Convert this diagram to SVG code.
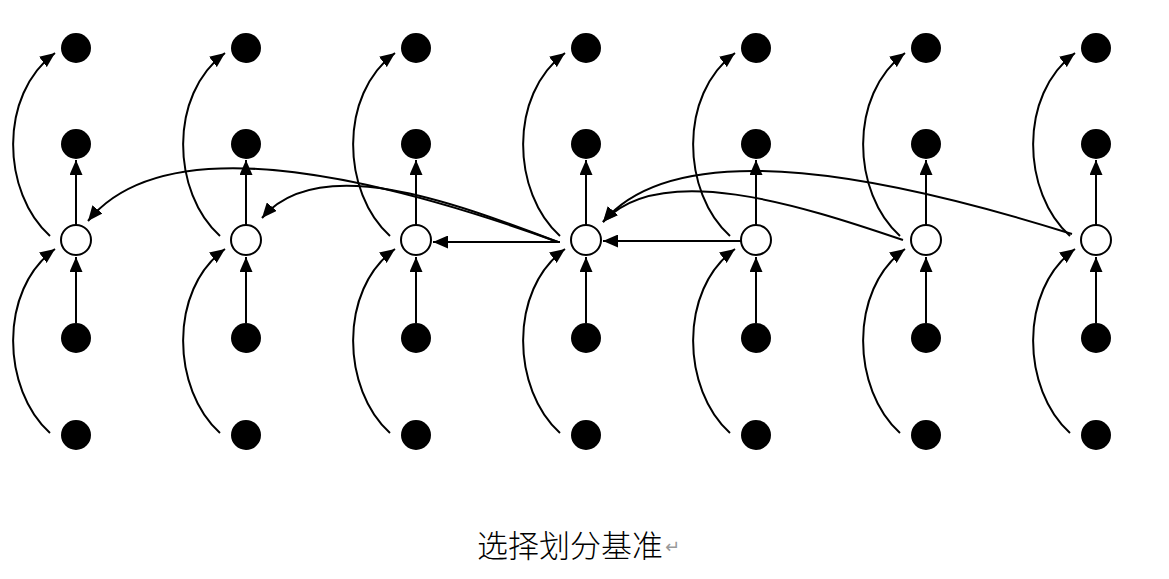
<svg xmlns="http://www.w3.org/2000/svg" width="1169" height="579" viewBox="0 0 1169 579">
<defs>
<marker id="ah" viewBox="0 0 15 13" refX="15" refY="6.5" markerWidth="15" markerHeight="13" markerUnits="userSpaceOnUse" orient="auto">
<path d="M0,0 L15,6.5 L0,13 Z" fill="#000"/>
</marker>
<g id="col">
<circle cx="0" cy="48" r="15" class="dot"/>
<circle cx="0" cy="144" r="15" class="dot"/>
<circle cx="0" cy="240" r="15" class="open"/>
<circle cx="0" cy="338" r="15" class="dot"/>
<circle cx="0" cy="435" r="15" class="dot"/>
</g>
<g id="colcon">
<path d="M-26,433 C-74,390 -78,290 -21,249" class="ln"/>
<path d="M-26,236 C-74,193 -78,95 -21,53" class="ln"/>
<path d="M0,323 L0,257" class="ln"/>
<path d="M0,225 L0,160" class="ln"/>
</g>
</defs>
<style>
.dot{fill:#000}
.open{fill:#fff;stroke:#000;stroke-width:2}
.ln{fill:none;stroke:#000;stroke-width:2;marker-end:url(#ah)}
.lbl{font-family:"Noto Sans CJK SC","Noto Sans",sans-serif;font-size:31px;font-weight:300;fill:#000}
</style>
<rect width="1169" height="579" fill="#fff"/>
<g id="connectors">
<use href="#colcon" x="76"/>
<use href="#colcon" x="246"/>
<use href="#colcon" x="416"/>
<use href="#colcon" x="586"/>
<use href="#colcon" x="756"/>
<use href="#colcon" x="926"/>
<use href="#colcon" x="1096"/>
<path d="M741,241 L603,241" class="ln"/>
<path d="M560,242 L433,242" class="ln"/>
<path d="M558,242 C400,185 170,120 88,221" class="ln"/>
<path d="M558,242 C460,205 320,150 262,218" class="ln"/>
<path d="M1072,234 C900,180 680,130 603,222" class="ln"/>
<path d="M903,240 C800,205 660,160 603,222" class="ln"/>
</g>
<g id="node-col1"><use href="#col" x="76"/></g>
<g id="node-col2"><use href="#col" x="246"/></g>
<g id="node-col3"><use href="#col" x="416"/></g>
<g id="node-col4"><use href="#col" x="586"/></g>
<g id="node-col5"><use href="#col" x="756"/></g>
<g id="node-col6"><use href="#col" x="926"/></g>
<g id="node-col7"><use href="#col" x="1096"/></g>
<g id="caption">
<text x="477" y="557" class="lbl" textLength="186">选择划分基准</text>
<text x="665" y="553" font-family="DejaVu Sans, sans-serif" font-size="18" fill="#999">↵</text>
</g>
</svg>
